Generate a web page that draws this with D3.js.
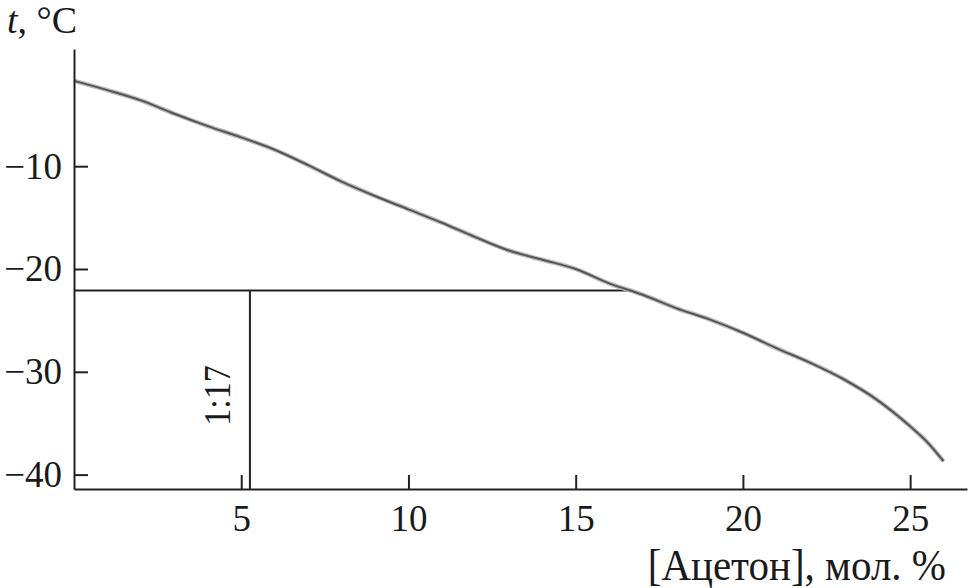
<!doctype html>
<html>
  <head>
    <style>
      body { margin: 0; background: #fff; }
      text { font-family: 'Liberation Serif', 'DejaVu Serif', serif; fill: #1a1a1a; }
    </style>
  </head>
  <body>
    <svg id='chart0'></svg>

    <script src='https://d3js.org/d3.v7.min.js'></script>
    <script>
      // acetone concentration (mol. %) and the melting temperature
      const conc = [0, 1, 2, 3, 4, 5, 6, 7, 8, 9, 10, 11, 12, 13, 14, 15, 16, 17,
                    18, 19, 20, 21, 22, 23, 24, 25, 25.5, 26];
      const temp = [-1.7, -2.6, -3.6, -4.9, -6.1, -7.2, -8.4, -9.9, -11.5, -12.9,
                    -14.2, -15.5, -16.9, -18.2, -19.1, -20.0, -21.4, -22.5, -23.8,
                    -24.9, -26.2, -27.7, -29.1, -30.7, -32.7, -35.3, -36.8, -38.7];
      const x_ticks = [5, 10, 15, 20, 25];
      const y_ticks = [-10, -20, -30, -40];
      // composition marker 1:17
      const ratio_conc = 5.26;
      const ratio_temp = -22.1;
      const ratio_label = '1:17';
      const ratio_end = 16.7;

      const width = 968;
      const height = 588;
      const svg = d3.select('svg#chart0')
                    .attr('width', width)
                    .attr('height', height);

      const x = d3.scaleLinear()
                  .domain([0, 26.7])
                  .range([74, 967]);
      const y = d3.scaleLinear()
                  .domain([-41.4, 1.4])
                  .range([489, 49]);

      const line = d3.line()
                     .x(d => x(d[0]))
                     .y(d => y(d[1]))
                     .curve(d3.curveMonotoneX);
      const pts = conc.map((c, i) => [c, temp[i]]);

      // marker lines
      svg.append('line')
         .attr('x1', x(0)).attr('x2', x(ratio_end))
         .attr('y1', y(ratio_temp)).attr('y2', y(ratio_temp))
         .attr('stroke', '#222').attr('stroke-width', 2);
      svg.append('line')
         .attr('x1', x(ratio_conc)).attr('x2', x(ratio_conc))
         .attr('y1', y(ratio_temp)).attr('y2', y(-41.4))
         .attr('stroke', '#222').attr('stroke-width', 2);
      svg.append('text')
         .attr('transform', `translate(${x(ratio_conc) - 20},${y(-32.3)}) rotate(-90) scale(1,1.1)`)
         .attr('text-anchor', 'middle')
         .attr('font-size', 34)
         .text(ratio_label);

      // curve
      svg.append('path')
         .attr('d', line(pts))
         .attr('fill', 'none')
         .attr('stroke', '#bcbcbc')
         .attr('stroke-width', 4.5);
      svg.append('path')
         .attr('d', line(pts))
         .attr('fill', 'none')
         .attr('stroke', '#555')
         .attr('stroke-width', 2);

      // axes
      svg.append('g')
         .attr('transform', `translate(0,${y(-41.4)})`)
         .call(d3.axisBottom(x).tickValues(x_ticks)
                 .tickSizeInner(-14).tickSizeOuter(0).tickPadding(16));
      svg.append('g')
         .attr('transform', `translate(${x(0)},0)`)
         .call(d3.axisLeft(y).tickValues(y_ticks)
                 .tickSizeInner(-14).tickSizeOuter(0).tickPadding(12));
      svg.selectAll('.domain, .tick line')
         .attr('stroke', '#222')
         .attr('stroke-width', 2);
      svg.selectAll('.tick text')
         .attr('font-size', 37)
         .attr('font-family', "'Liberation Serif', serif")
         .attr('fill', '#1a1a1a');

      // titles
      const yt = svg.append('text')
         .attr('x', 7)
         .attr('y', 33)
         .attr('font-size', 38);
      yt.append('tspan').attr('font-style', 'italic').text('t');
      yt.append('tspan').text(', °C');
      svg.append('text')
         .attr('transform', 'translate(946,580) scale(1,1.1)')
         .attr('text-anchor', 'end')
         .attr('font-size', 41)
         .text('[Ацетон], мол. %');
    </script>
  </body>
</html>
